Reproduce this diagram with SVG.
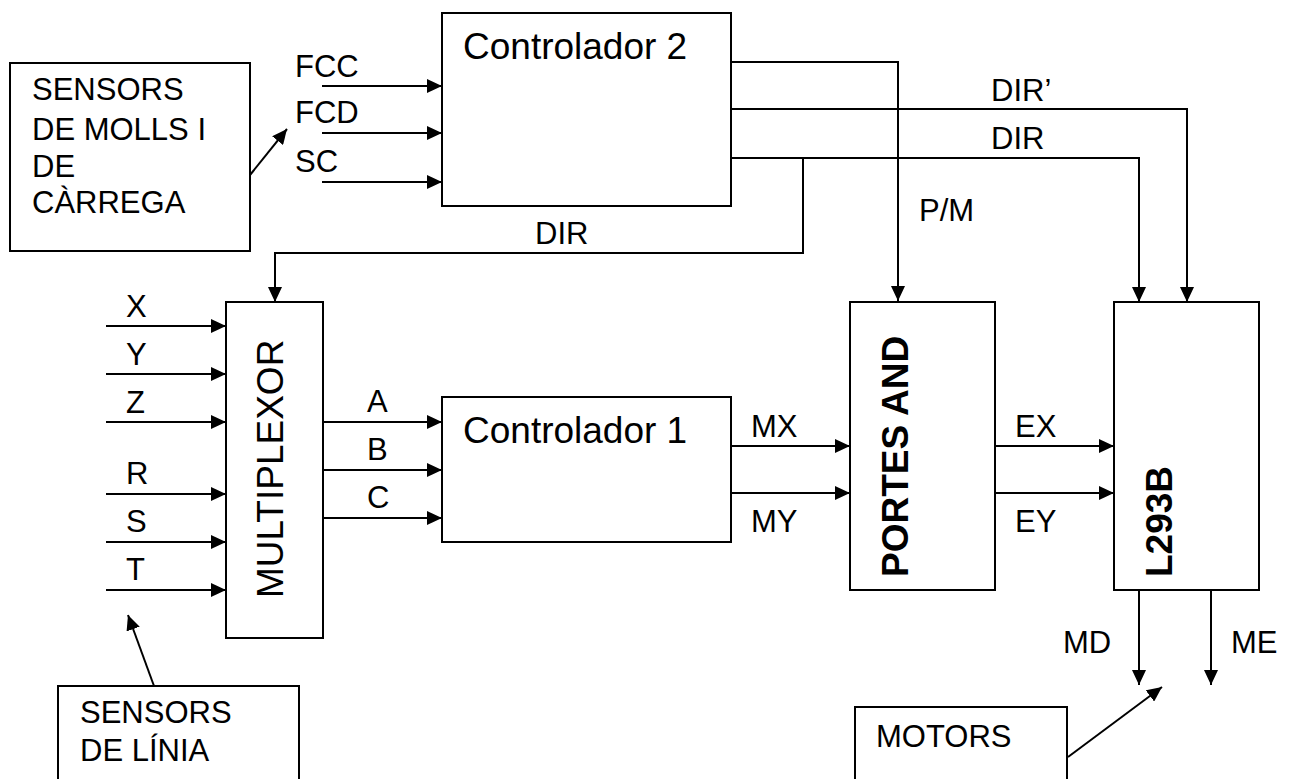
<svg xmlns="http://www.w3.org/2000/svg" width="1291" height="779" viewBox="0 0 1291 779">
<style>
.box{fill:#fff;stroke:#000;stroke-width:2}
.ln{fill:none;stroke:#000;stroke-width:2}
.arr{marker-end:url(#ah)}
text{font-family:"Liberation Sans",Arial,sans-serif;fill:#000}
.s{font-size:31px}
.l{font-size:37px}
.b{font-size:37px;font-weight:bold}
</style>
<defs>
<marker id="ah" viewBox="0 0 15 14" refX="15" refY="7" markerWidth="15" markerHeight="14" markerUnits="userSpaceOnUse" orient="auto">
<path d="M0,0 L15,7 L0,14 z" fill="#000"/>
</marker>
</defs>
<rect width="1291" height="779" fill="#fff"/>

<g id="connectors">
<line class="ln arr" x1="322" y1="86" x2="442" y2="86"/>
<line class="ln arr" x1="322" y1="133" x2="442" y2="133"/>
<line class="ln arr" x1="322" y1="182" x2="442" y2="182"/>
<line class="ln arr" x1="250" y1="175" x2="287" y2="129"/>
<polyline class="ln arr" points="731,62 898,62 898,301"/>
<polyline class="ln arr" points="731,109 1187,109 1187,302"/>
<polyline class="ln arr" points="731,158 1139,158 1139,302"/>
<polyline class="ln arr" points="803,158 803,253 275,253 275,302"/>
<line class="ln arr" x1="106" y1="326" x2="226" y2="326"/>
<line class="ln arr" x1="106" y1="374" x2="226" y2="374"/>
<line class="ln arr" x1="106" y1="422" x2="226" y2="422"/>
<line class="ln arr" x1="106" y1="494" x2="226" y2="494"/>
<line class="ln arr" x1="106" y1="542" x2="226" y2="542"/>
<line class="ln arr" x1="106" y1="590" x2="226" y2="590"/>
<line class="ln arr" x1="323" y1="422" x2="442" y2="422"/>
<line class="ln arr" x1="323" y1="470" x2="442" y2="470"/>
<line class="ln arr" x1="323" y1="518" x2="442" y2="518"/>
<line class="ln arr" x1="731" y1="446" x2="850" y2="446"/>
<line class="ln arr" x1="731" y1="493" x2="850" y2="493"/>
<line class="ln arr" x1="995" y1="446" x2="1114" y2="446"/>
<line class="ln arr" x1="995" y1="493" x2="1114" y2="493"/>
<line class="ln arr" x1="1139" y1="590" x2="1139" y2="685"/>
<line class="ln arr" x1="1211" y1="590" x2="1211" y2="685"/>
<line class="ln arr" x1="154" y1="686" x2="128" y2="615"/>
<line class="ln arr" x1="1068" y1="757" x2="1162" y2="687"/>
</g>

<g id="labels">
<text class="s" x="295" y="77">FCC</text>
<text class="s" x="295" y="123">FCD</text>
<text class="s" x="295" y="172">SC</text>
<text class="s" x="991" y="101">DIR’</text>
<text class="s" x="991" y="149">DIR</text>
<text class="s" x="919" y="221">P/M</text>
<text class="s" x="535" y="244">DIR</text>
<text class="s" x="126" y="317">X</text>
<text class="s" x="126" y="365">Y</text>
<text class="s" x="126" y="413">Z</text>
<text class="s" x="126" y="484">R</text>
<text class="s" x="126" y="532">S</text>
<text class="s" x="126" y="580">T</text>
<text class="s" x="367" y="412">A</text>
<text class="s" x="367" y="460">B</text>
<text class="s" x="367" y="508">C</text>
<text class="s" x="751" y="437">MX</text>
<text class="s" x="751" y="532">MY</text>
<text class="s" x="1015" y="437">EX</text>
<text class="s" x="1015" y="532">EY</text>
<text class="s" x="1063" y="653">MD</text>
<text class="s" x="1231" y="653">ME</text>
</g>

<g id="sensors-molls">
<rect class="box" x="10" y="63" width="240" height="188"/>
<text class="s" x="32" y="100">SENSORS</text>
<text class="s" x="32" y="140">DE MOLLS I</text>
<text class="s" x="32" y="177">DE</text>
<text class="s" x="32" y="213">CÀRREGA</text>
</g>

<g id="controlador2">
<rect class="box" x="442" y="13" width="289" height="193"/>
<text class="l" x="463" y="59">Controlador 2</text>
</g>

<g id="multiplexor">
<rect class="box" x="226" y="302" width="97" height="336"/>
<text class="l" transform="translate(283,598) rotate(-90)">MULTIPLEXOR</text>
</g>

<g id="controlador1">
<rect class="box" x="442" y="397" width="289" height="145"/>
<text class="l" x="463" y="443">Controlador 1</text>
</g>

<g id="portes-and">
<rect class="box" x="850" y="302" width="145" height="288"/>
<text class="b" transform="translate(908,577) rotate(-90)">PORTES AND</text>
</g>

<g id="l293b">
<rect class="box" x="1114" y="302" width="145" height="288"/>
<text class="b" transform="translate(1172,577) rotate(-90)">L293B</text>
</g>

<g id="sensors-linia">
<rect class="box" x="58" y="686" width="241" height="110"/>
<text class="s" x="80" y="723">SENSORS</text>
<text class="s" x="80" y="761">DE LÍNIA</text>
</g>

<g id="motors">
<rect class="box" x="855" y="707" width="212" height="90"/>
<text class="s" x="876" y="747">MOTORS</text>
</g>
</svg>
